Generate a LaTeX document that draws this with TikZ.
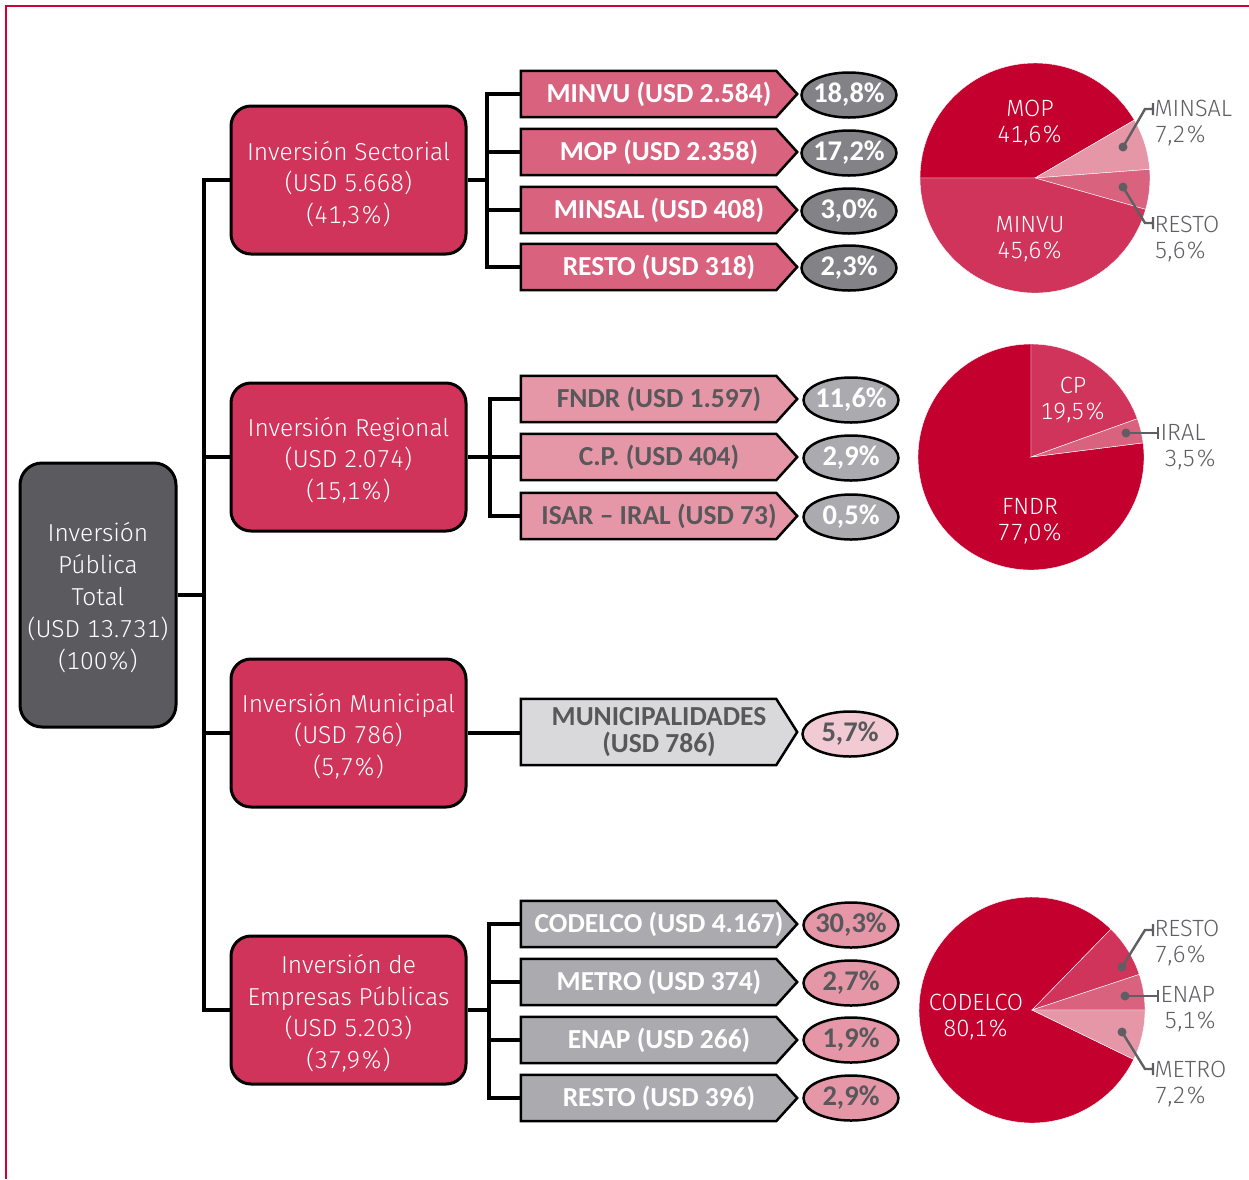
\documentclass[tikz,border=0pt]{standalone}
\usepackage{fontspec}
\usetikzlibrary{shapes.geometric}
\newfontfamily\lt{Fira Sans Light}[Numbers={Lining,Monospaced}]
\newfontfamily\cb{Carlito}
\definecolor{crim}{HTML}{C4002F}
\definecolor{secbox}{HTML}{D0345A}
\definecolor{rose}{HTML}{D9637F}
\definecolor{lpink}{HTML}{E597A8}
\definecolor{dgrey}{HTML}{5B5A5F}
\definecolor{mgrey}{HTML}{838287}
\definecolor{lgrey}{HTML}{ABAAAF}
\definecolor{vlgrey}{HTML}{D9D9DC}
\definecolor{vlpink}{HTML}{F2CAD3}
\definecolor{txtgrey}{HTML}{58585B}
\definecolor{frame}{HTML}{D0003A}
\definecolor{leader}{HTML}{5F5F63}
% #1 height, #2 name, #3 position, #4 fill, #5 text colour, #6 text
\newcommand\myarr[6][46]{%
  \node[arrbox, minimum height=#1pt] (#2) at (#3) {};
  \filldraw[fill=#4, draw=black, line width=2.5pt, line join=miter]
    (#2.north west) -- ([xshift=-21pt]#2.north east) -- (#2.east)
    -- ([xshift=-21pt]#2.south east) -- (#2.south west) -- cycle;
  \node[arrtext, text=#5] (#2t) at (#2.center) {#6};}
\begin{document}
\begin{tikzpicture}[x=1pt,y=-1pt,
  inv/.style={draw=black, line width=3pt, rounded corners=20pt, fill=secbox, text=white,
    minimum width=235pt, minimum height=148pt, align=center, inner sep=0pt,
    font=\lt\fontsize{24.5}{31.5}\selectfont},
  mainbox/.style={draw=black, line width=3pt, rounded corners=22pt, fill=dgrey, text=white,
    minimum width=156pt, minimum height=264pt, align=center, inner sep=0pt,
    font=\lt\fontsize{24.5}{32}\selectfont},
  lbl/.style={text=white, align=center, inner sep=0pt, font=\lt\fontsize{24.5}{31.5}\selectfont},
  arrbox/.style={rectangle, minimum width=276pt, inner sep=0pt},
  arrtext/.style={align=center, inner sep=0pt, font=\cb\bfseries\fontsize{27.5}{27}\selectfont},
  pct/.style={ellipse, draw=black, line width=2.5pt, minimum width=95pt, minimum height=45pt,
    inner xsep=-20pt, inner ysep=-10pt, font=\cb\bfseries\fontsize{28.5}{29}\selectfont},
  link/.style={line width=3.5pt},
  pielab/.style={text=white, align=center, font=\lt\fontsize{23.5}{26.5}\selectfont},
  outlab/.style={text=leader, align=left, anchor=west, font=\lt\fontsize{23.5}{26.5}\selectfont},
  dot/.style={circle, fill=leader, inner sep=0pt, minimum size=9pt},
  lead/.style={draw=leader, line width=2.4pt},
  slice/.style={draw=white, line width=0.4pt}
]
\useasboundingbox (0,0) rectangle (1249,1179);
% frame
\draw[frame, line width=2.5pt] (6,1179) -- (6,6) -- (1249,6);

% main and level 1
\node[mainbox] (main) at (98,595) {};
\node[lbl, font=\lt\fontsize{24.5}{32}\selectfont] (maint) at (98,598) {Inversión\\Pública\\Total\\(USD 13.731)\\(100\%)};
\node[inv] (sec) at (348.5,180) {};
\node[lbl] (sect) at (348.5,184) {Inversión Sectorial\\(USD 5.668)\\(41,3\%)};
\node[inv] (reg) at (348.5,457) {};
\node[lbl] (regt) at (348.5,460) {Inversión Regional\\(USD 2.074)\\(15,1\%)};
\node[inv] (mun) at (348.5,733) {};
\node[lbl] (munt) at (348.5,736) {Inversión Municipal\\(USD 786)\\(5,7\%)};
\node[inv] (emp) at (348.5,1010) {};
\node[lbl] (empt) at (348.5,1013) {Inversión de\\Empresas Públicas\\(USD 5.203)\\(37,9\%)};

\coordinate (tr) at (204,0);
\draw[link] (main.east) -- (main.east -| tr);
\draw[link] (sec.west) -- (sec.west -| tr) -- (emp.west -| tr) -- (emp.west);
\draw[link] (reg.west -| tr) -- (reg.west);
\draw[link] (mun.west -| tr) -- (mun.west);

% sectorial
\myarr{a1}{659,94}{rose}{white}{MINVU (USD 2.584)}
\myarr{a2}{659,152}{rose}{white}{MOP (USD 2.358)}
\myarr{a3}{659,210}{rose}{white}{MINSAL (USD 408)}
\myarr{a4}{659,267}{rose}{white}{RESTO (USD 318)}
\node[pct, fill=mgrey, text=white] (p1) at (849,95) {18,8\%};
\node[pct, fill=mgrey, text=white] (p2) at (849,153) {17,2\%};
\node[pct, fill=mgrey, text=white] (p3) at (849,211) {3,0\%};
\node[pct, fill=mgrey, text=white] (p4) at (849,268) {2,3\%};
\coordinate (s1) at (487,0);
\draw[link] (sec.east) -- (sec.east -| s1);
\draw[link] (a1.west) -- (a1.west -| s1) -- (a4.west -| s1) -- (a4.west);
\draw[link] (a2.west -| s1) -- (a2.west);
\draw[link] (a3.west -| s1) -- (a3.west);

% regional
\myarr{b1}{659,399}{lpink}{txtgrey}{FNDR (USD 1.597)}
\myarr{b2}{659,457}{lpink}{txtgrey}{C.P. (USD 404)}
\myarr{b3}{659,516}{lpink}{txtgrey}{ISAR – IRAL (USD 73)}
\node[pct, fill=lgrey, text=white] (q1) at (851,400) {11,6\%};
\node[pct, fill=lgrey, text=white] (q2) at (851,458) {2,9\%};
\node[pct, fill=lgrey, text=white] (q3) at (851,517) {0,5\%};
\coordinate (s2) at (490,0);
\draw[link] (reg.east) -- (reg.east -| s2);
\draw[link] (b1.west) -- (b1.west -| s2) -- (b3.west -| s2) -- (b3.west);
\draw[link] (b2.west -| s2) -- (b2.west);

% municipal
\myarr[66]{c1}{659,732}{vlgrey}{txtgrey}{MUNICIPALIDADES\\(USD 786)}
\node[pct, fill=vlpink, text=txtgrey] (r1) at (850,734) {5,7\%};
\draw[link] (mun.east) -- (mun.east -| c1.west);

% empresas
\myarr{d1}{659,924}{lgrey}{white}{CODELCO (USD 4.167)}
\myarr{d2}{659,982}{lgrey}{white}{METRO (USD 374)}
\myarr{d3}{659,1040}{lgrey}{white}{ENAP (USD 266)}
\myarr{d4}{659,1098}{lgrey}{white}{RESTO (USD 396)}
\node[pct, fill=lpink, text=txtgrey] (e1) at (851,925) {30,3\%};
\node[pct, fill=lpink, text=txtgrey] (e2) at (851,983) {2,7\%};
\node[pct, fill=lpink, text=txtgrey] (e3) at (851,1040) {1,9\%};
\node[pct, fill=lpink, text=txtgrey] (e4) at (851,1098) {2,9\%};
\coordinate (s3) at (489,0);
\draw[link] (emp.east) -- (emp.east -| s3);
\draw[link] (d1.west) -- (d1.west -| s3) -- (d4.west -| s3) -- (d4.west);
\draw[link] (d2.west -| s3) -- (d2.west);
\draw[link] (d3.west -| s3) -- (d3.west);

% pie 1 (tikz angle = - visual angle)
\coordinate (pc1) at (1035,178);
\fill[crim, slice] (pc1) -- ++(-180:115) arc[start angle=-180, end angle=-30.24, radius=115] -- cycle;
\fill[lpink, slice] (pc1) -- ++(-30.24:115) arc[start angle=-30.24, end angle=-4.32, radius=115] -- cycle;
\fill[rose, slice] (pc1) -- ++(-4.32:115) arc[start angle=-4.32, end angle=15.84, radius=115] -- cycle;
\fill[secbox, slice] (pc1) -- ++(15.84:115) arc[start angle=15.84, end angle=180, radius=115] -- cycle;
\node[pielab] (l11) at (1030,123) {MOP\\41,6\%};
\node[pielab] (l12) at (1030,239) {MINVU\\45,6\%};
\node[dot] (d11) at (1123,147) {};
\node[dot] (d12) at (1123,187) {};
\coordinate (k11) at (1153,109);
\coordinate (k12) at (1153,223);
\draw[lead] (d11.center) -- (1145,109) -- (k11) ++(0,-6) -- ++(0,12);
\draw[lead] (d12.center) -- (1145,223) -- (k12) ++(0,-6) -- ++(0,12);
\node[outlab] (o11) at (1151,123) {MINSAL\\7,2\%};
\node[outlab] (o12) at (1151,239) {RESTO\\5,6\%};

% pie 2
\coordinate (pc2) at (1031,457);
\fill[crim, slice] (pc2) -- ++(-7.2:113) arc[start angle=-7.2, end angle=270, radius=113] -- cycle;
\fill[secbox, slice] (pc2) -- ++(-90:113) arc[start angle=-90, end angle=-19.8, radius=113] -- cycle;
\fill[rose, slice] (pc2) -- ++(-19.8:113) arc[start angle=-19.8, end angle=-7.2, radius=113] -- cycle;
\node[pielab] (l21) at (1073,400) {CP\\19,5\%};
\node[pielab] (l22) at (1030,521) {FNDR\\77,0\%};
\node[dot] (d21) at (1126,433) {};
\coordinate (k21) at (1158,433);
\draw[lead] (d21.center) -- (k21) ++(0,-6) -- ++(0,12);
\node[outlab] (o21) at (1157,447) {IRAL\\\,3,5\%};

% pie 3
\coordinate (pc3) at (1032,1010);
\fill[crim, slice] (pc3) -- ++(-45.72:113) arc[start angle=-45.72, end angle=-334.08, radius=113] -- cycle;
\fill[secbox, slice] (pc3) -- ++(-45.72:113) arc[start angle=-45.72, end angle=-18.36, radius=113] -- cycle;
\fill[rose, slice] (pc3) -- ++(-18.36:113) arc[start angle=-18.36, end angle=0, radius=113] -- cycle;
\fill[lpink, slice] (pc3) -- ++(0:113) arc[start angle=0, end angle=25.92, radius=113] -- cycle;
\node[pielab] (l31) at (976,1017) {CODELCO\\80,1\%};
\node[dot] (d31) at (1122,967) {};
\node[dot] (d32) at (1125,996) {};
\node[dot] (d33) at (1122,1032) {};
\coordinate (k31) at (1153,930);
\coordinate (k32) at (1158,996);
\coordinate (k33) at (1153,1069);
\draw[lead] (d31.center) -- (1145,930) -- (k31) ++(0,-6) -- ++(0,12);
\draw[lead] (d32.center) -- (k32) ++(0,-6) -- ++(0,12);
\draw[lead] (d33.center) -- (1145,1069) -- (k33) ++(0,-6) -- ++(0,12);
\node[outlab] (o31) at (1151,943) {RESTO\\7,6\%};
\node[outlab] (o32) at (1157,1009) {ENAP\\\,5,1\%};
\node[outlab] (o33) at (1151,1084) {METRO\\7,2\%};
\end{tikzpicture}
\end{document}
